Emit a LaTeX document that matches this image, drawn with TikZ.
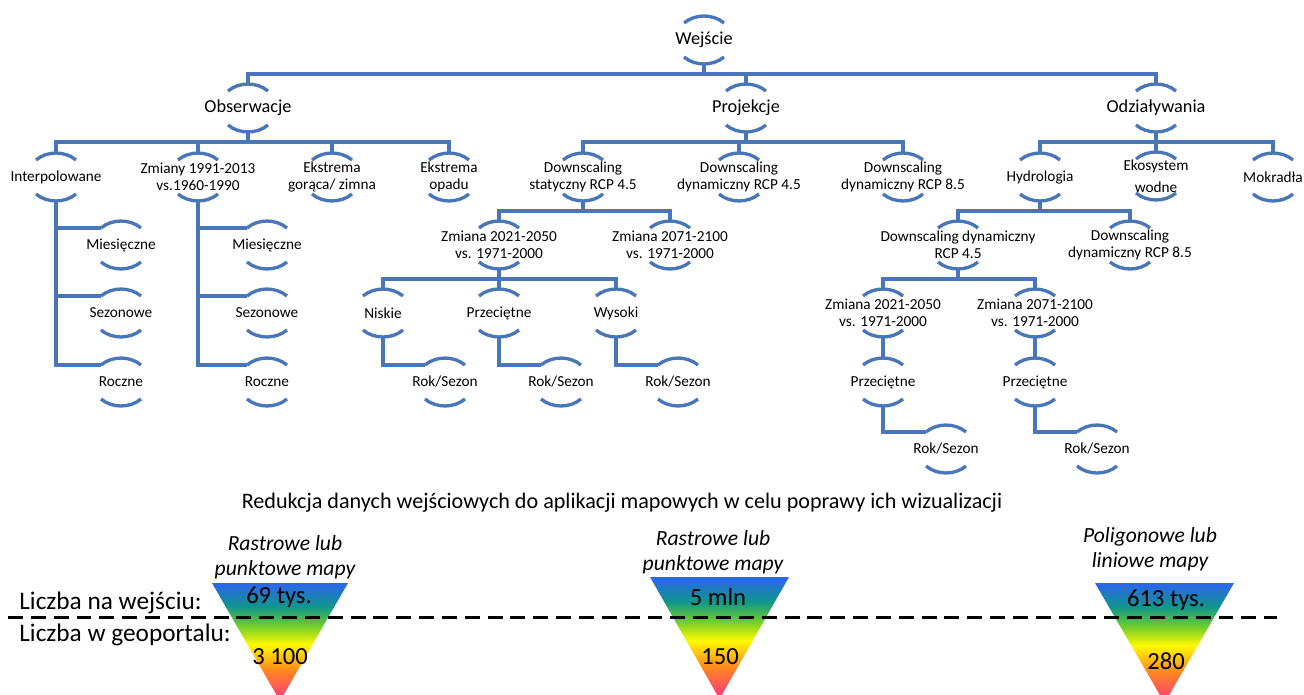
\documentclass[tikz,border=0pt]{standalone}
\usepackage{fontspec}
\setmainfont{Carlito}
\usetikzlibrary{calc}
\definecolor{niebieski}{RGB}{72,118,184}
\definecolor{tbl}{RGB}{45,100,238}
\definecolor{tte}{RGB}{15,150,140}
\definecolor{tgr}{RGB}{110,205,45}
\definecolor{tye}{RGB}{255,250,0}
\definecolor{tor}{RGB}{255,135,30}
\definecolor{tpi}{RGB}{255,50,135}
\pgfdeclareverticalshading{tecza}{100bp}{color(0bp)=(tpi); color(25bp)=(tpi); color(38bp)=(tor); color(49bp)=(tye); color(57bp)=(tgr); color(65bp)=(tte); color(75bp)=(tbl); color(100bp)=(tbl)}
\tikzset{
	glowny/.style={inner sep=0pt, align=center, font=\fontsize{10.4}{12}\selectfont},
	opis/.style={inner sep=0pt, align=center, font=\fontsize{8.7}{9.7}\selectfont},
	luk/.style={niebieski, line width=1.9pt},
	lacznik/.style={niebieski, line width=1.9pt},
	liczba/.style={inner sep=0pt, font=\fontsize{14}{16}\selectfont},
	mapa/.style={inner sep=0pt, align=center, font=\fontsize{12.3}{14.2}\selectfont\itshape},
	kreska/.style={black, line width=1.7pt, dash pattern=on 8.5pt off 4.5pt}
}

\begin{document}
\begin{tikzpicture}[x=0.02cm, y=-0.02cm]
	\useasboundingbox (0,0) rectangle (1304,694);
	
	% drzewo
	\node [glowny] (wej) at (704,40) {Wejście};
	\node [glowny] (obs) at (248,108) {Obserwacje};
	\node [glowny] (proj) at (746,108) {Projekcje};
	\node [glowny] (odd) at (1156,108) {Odziaływania};
	
	\node [opis] (int) at (56,177) {Interpolowane};
	\node [opis] (zmi) at (198,177) {Zmiany 1991-2013\\vs.1960-1990};
	\node [opis] (eg) at (332,177) {Ekstrema\\gorąca/ zimna};
	\node [opis] (eo) at (449,177) {Ekstrema\\opadu};
	\node [opis] (dst) at (583,177) {Downscaling\\statyczny RCP 4.5};
	\node [opis] (dd4) at (739,177) {Downscaling\\dynamiczny RCP 4.5};
	\node [opis] (dd8) at (903,177) {Downscaling\\dynamiczny RCP 8.5};
	\node [opis] (hyd) at (1040,177) {Hydrologia};
	\node [opis] (eko) at (1156,176) {Ekosystem\\[3pt]wodne};
	\node [opis] (mok) at (1273,177) {Mokradła};
	
	\node [opis] (mi1) at (121,245) {Miesięczne};
	\node [opis] (mi2) at (267,245) {Miesięczne};
	\node [opis] (za1) at (499,245) {Zmiana 2021-2050\\vs. 1971-2000};
	\node [opis] (za2) at (670,245) {Zmiana 2071-2100\\vs. 1971-2000};
	\node [opis] (hd4) at (958,245) {Downscaling dynamiczny\\RCP 4.5};
	\node [opis] (hd8) at (1130,245) {Downscaling\\dynamiczny RCP 8.5};
	
	\node [opis] (se1) at (121,313) {Sezonowe};
	\node [opis] (se2) at (267,313) {Sezonowe};
	\node [opis] (nis) at (383,313) {Niskie};
	\node [opis] (prz) at (499,313) {Przeciętne};
	\node [opis] (wys) at (616,313) {Wysoki};
	\node [opis] (zb1) at (883,313) {Zmiana 2021-2050\\vs. 1971-2000};
	\node [opis] (zb2) at (1035,313) {Zmiana 2071-2100\\vs. 1971-2000};
	
	\node [opis] (ro1) at (121,382) {Roczne};
	\node [opis] (ro2) at (267,382) {Roczne};
	\node [opis] (rs1) at (445,382) {Rok/Sezon};
	\node [opis] (rs2) at (561,382) {Rok/Sezon};
	\node [opis] (rs3) at (678,382) {Rok/Sezon};
	\node [opis] (pb1) at (883,382) {Przeciętne};
	\node [opis] (pb2) at (1035,382) {Przeciętne};
	
	\node [opis] (rs4) at (946,449) {Rok/Sezon};
	\node [opis] (rs5) at (1097,449) {Rok/Sezon};
	
	% luki nad i pod etykietami
	\foreach \n in {wej,obs,proj,odd,int,zmi,eg,eo,dst,dd4,dd8,hyd,eko,mok,mi1,mi2,za1,za2,hd4,hd8,se1,se2,nis,prz,wys,zb1,zb2,ro1,ro2,rs1,rs2,rs3,pb1,pb2,rs4,rs5}{
		\draw [luk] ([shift={(-20,-17)}]\n.center) .. controls +(11,-9.3) and +(-11,-9.3) .. ([shift={(20,-17)}]\n.center);
		\draw [luk] ([shift={(-20,17)}]\n.center) .. controls +(11,9.3) and +(-11,9.3) .. ([shift={(20,17)}]\n.center);
	}
	
	% polaczenia
	\foreach \p/\c in {wej/obs,wej/proj,wej/odd,obs/int,obs/zmi,obs/eg,obs/eo,proj/dst,proj/dd4,proj/dd8,odd/hyd,odd/eko,odd/mok,dst/za1,dst/za2,za1/nis,za1/prz,za1/wys,hyd/hd4,hyd/hd8,hd4/zb1,hd4/zb2,zb1/pb1,zb2/pb2}
		\draw [lacznik] ([shift={(0,24)}]\p.center) -- ++(0,10) -| ([shift={(0,-24)}]\c.center);
	\foreach \p/\c in {int/mi1,int/se1,int/ro1,zmi/mi2,zmi/se2,zmi/ro2,nis/rs1,prz/rs2,wys/rs3,pb1/rs4,pb2/rs5}
		\draw [lacznik] ([shift={(0,24)}]\p.center) |- ([shift={(-20,-17)}]\c.center);
	
	% redukcja danych
	\node [inner sep=0pt, font=\fontsize{12.6}{14}\selectfont] (red) at (622,503) {Redukcja danych wejściowych do aplikacji mapowych w celu poprawy ich wizualizacji};
	
	\begin{scope}
		\clip (0,0) rectangle (1304,694);
		\shade [shading=tecza] (212,583) -- (348,583) -- (280,701) -- cycle;
		\shade [shading=tecza] (650,577) -- (789,577) -- (719.5,699) -- cycle;
		\shade [shading=tecza] (1095,583) -- (1234,583) -- (1164.5,703) -- cycle;
	\end{scope}
	\draw [kreska] (8,617) -- (1277,617);
	
	\node [mapa] (m1) at (285,557) {Rastrowe lub\\punktowe mapy};
	\node [mapa] (m2) at (713,552) {Rastrowe lub\\punktowe mapy};
	\node [mapa] (m3) at (1150,549) {Poligonowe lub\\liniowe mapy};
	
	\node [liczba] (we1) at (279,597) {69 tys.};
	\node [liczba] (ge1) at (280,657) {3 100};
	\node [liczba] (we2) at (718,597) {5 mln};
	\node [liczba] (ge2) at (720,657) {150};
	\node [liczba] (we3) at (1166,600) {613 tys.};
	\node [liczba] (ge3) at (1166,661) {280};
	
	\node [inner sep=0pt, anchor=west, font=\fontsize{14.4}{16}\selectfont] (lwe) at (19,603) {Liczba na wejściu:};
	\node [inner sep=0pt, anchor=west, font=\fontsize{14.4}{16}\selectfont] (lge) at (19,635) {Liczba w geoportalu:};
\end{tikzpicture}
\end{document}
